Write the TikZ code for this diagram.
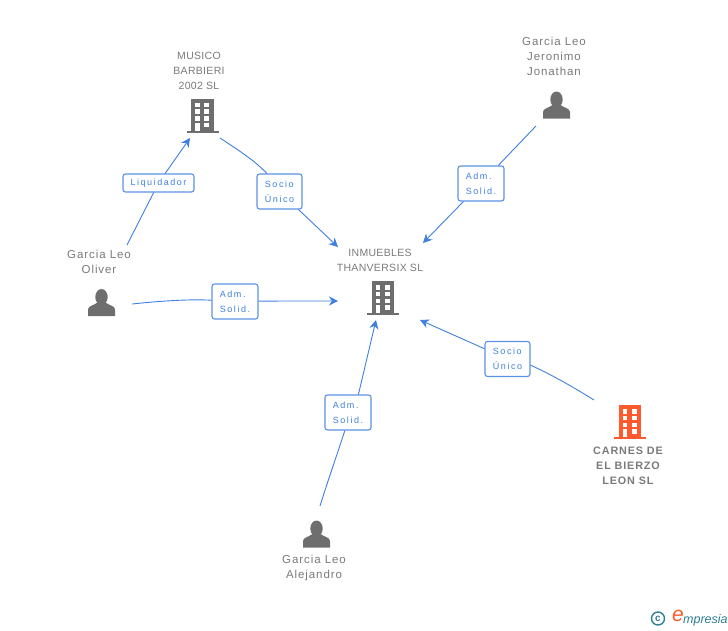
\documentclass[tikz,border=0pt]{standalone}
\usepackage{fontspec}
\setmainfont{Liberation Sans}
\newfontfamily\spacedfont[LetterSpace=8]{Liberation Sans}
\newfontfamily\rolefont[LetterSpace=17]{Liberation Sans}
\newfontfamily\companyfont[LetterSpace=3]{Liberation Sans}
\usepackage{xcolor}
\usetikzlibrary{positioning,arrows.meta}
\definecolor{linkblue}{HTML}{3F7FE0}
\definecolor{icongray}{HTML}{6E6E6E}
\definecolor{textgray}{HTML}{7A7A7A}
\definecolor{iconorange}{HTML}{FF5A2E}
\definecolor{logoteal}{HTML}{2F7F95}
\tikzset{
  link/.style={linkblue, line width=0.9pt},
  linkarrow/.style={link, -{Stealth[length=9pt,width=9pt]}},
  rolebox/.style={draw=linkblue!85, line width=1.1pt, rounded corners=2.5pt, fill=white, text=linkblue,
    align=left, inner sep=0pt, font=\rolefont\fontsize{9}{15}\selectfont},
  adm/.style={rolebox, minimum width=46pt, minimum height=35pt},
  namelabel/.style={text=textgray, align=center, inner sep=0pt, font=\spacedfont\fontsize{11.5}{15}\selectfont},
  companylabel/.style={namelabel, font=\companyfont\fontsize{10.5}{15}\selectfont},
  pics/building/.style={code={
    \fill[#1] (-11.5,-17) rectangle (11,15);
    \fill[#1] (-16,15) rectangle (16,17);
    % ventanas
    \foreach \wy in {-12.8,-6.2,0.8}{
      \fill[white] (-7.5,\wy) rectangle (-3,\wy+4.6);
      \fill[white] (1.8,\wy) rectangle (6.5,\wy+4.6);
    }
    \fill[white] (-7.5,7.2) rectangle (-3,15);
    \fill[white] (1.8,7.2) rectangle (6.5,11.8);
  }},
  pics/person/.style={code={
    \fill[icongray] (0,-5.5) ellipse (6.2 and 8);
    \fill[icongray] (-13.5,13.5) -- (-13.5,7) .. controls (-13.5,3.5) and (-8,3) .. (-4,0)
      -- (4,0) .. controls (8,3) and (13.5,3.5) .. (13.5,7) -- (13.5,13.5) -- cycle;
  }}
}
\begin{document}
\begin{tikzpicture}[x=1pt,y=-1pt]
  \useasboundingbox (0,0) rectangle (728,630);
  % Empresas y personas
  \pic (musico) at (202.5,115.5) {building=icongray};
  \pic (inmuebles) at (383,298) {building=icongray};
  \pic (carnes) at (630,422) {building=iconorange};
  \pic (oliver) at (101.5,302.5) {person};
  \pic (jeronimo) at (556.5,105) {person};
  \pic (alejandro) at (316.5,534) {person};
  % Nombres
  \node[companylabel] (musicoName) at (199,70.5) {MUSICO\\BARBIERI\\2002 SL};
  \node[companylabel] (inmueblesName) at (380,260) {INMUEBLES\\THANVERSIX SL};
  \node[namelabel, font=\bfseries\spacedfont\fontsize{10.8}{15}\selectfont] (carnesName) at (628,465.5) {CARNES DE\\EL BIERZO\\LEON SL};
  \node[namelabel] (oliverName) at (99,262) {Garcia Leo\\Oliver};
  \node[namelabel] (jeronimoName) at (554,56.3) {Garcia Leo\\Jeronimo\\Jonathan};
  \node[namelabel] (alejandroName) at (314,568.5) {Garcia Leo\\Alejandro};
  % Cajas de las relaciones
  \node[rolebox, minimum width=71pt, minimum height=18pt] (liquidador) at (158.5,183) {Liquidador};
  \node[adm, minimum width=45pt] (socioA) at (279.5,191.5) {Socio\\Único};
  \node[adm] (admA) at (481,183.5) {Adm.\\Solid.};
  \node[adm] (admB) at (235,301.5) {Adm.\\Solid.};
  \node[adm] (admC) at (348,412.5) {Adm.\\Solid.};
  \node[adm, minimum width=45pt] (socioB) at (507.5,359) {Socio\\Único};
  % Extremos libres de los conectores
  \coordinate (oliverOutA) at (127,245);
  \coordinate (oliverOutB) at (132,304);
  \coordinate (musicoIn) at (190,138);
  \coordinate (musicoOut) at (220,138);
  \coordinate (jeronimoOut) at (536,126);
  \coordinate (alejandroOut) at (320,506);
  \coordinate (carnesOut) at (594,400);
  \coordinate (inmueblesInA) at (338,247);
  \coordinate (inmueblesInB) at (423,243);
  \coordinate (inmueblesInC) at (338,301);
  \coordinate (inmueblesInD) at (376,320);
  \coordinate (inmueblesInE) at (420,320);
  % Conectores
  \draw[link] (oliverOutA) -- (liquidador);
  \draw[linkarrow] (liquidador) -- (musicoIn);
  \draw[link] (musicoOut) .. controls (240,151) and (255,161) .. (socioA.125);
  \draw[linkarrow] (socioA) -- (inmueblesInA);
  \draw[link] (jeronimoOut) -- (admA);
  \draw[linkarrow] (admA) -- (inmueblesInB);
  \draw[link] (oliverOutB) .. controls (160,301) and (190,299) .. (admB);
  \draw[linkarrow] (admB) .. controls (270,301) and (300,301) .. (inmueblesInC);
  \draw[link] (alejandroOut) .. controls (328,480) and (338,452) .. (admC.-100);
  \draw[linkarrow] (admC.60) -- (inmueblesInD);
  \draw[link] (carnesOut) .. controls (570,385) and (548,373) .. (socioB.-15);
  \draw[linkarrow] (socioB) -- (inmueblesInE);
  % Logo
  \node[draw=logoteal, line width=1.4pt, circle, minimum size=13pt, inner sep=0pt, text=logoteal,
    font=\bfseries\fontsize{10}{10}\selectfont] (logoMark) at (658,618.5) {c};
  \node[text=iconorange, inner sep=0pt, font=\itshape\fontsize{21}{21}\selectfont] (logoE) at (678,616) {e};
  \node[text=logoteal, inner sep=0pt, anchor=west, font=\itshape\fontsize{12.5}{12}\selectfont] (logoText) at (683,620) {mpresia};
\end{tikzpicture}
\end{document}
